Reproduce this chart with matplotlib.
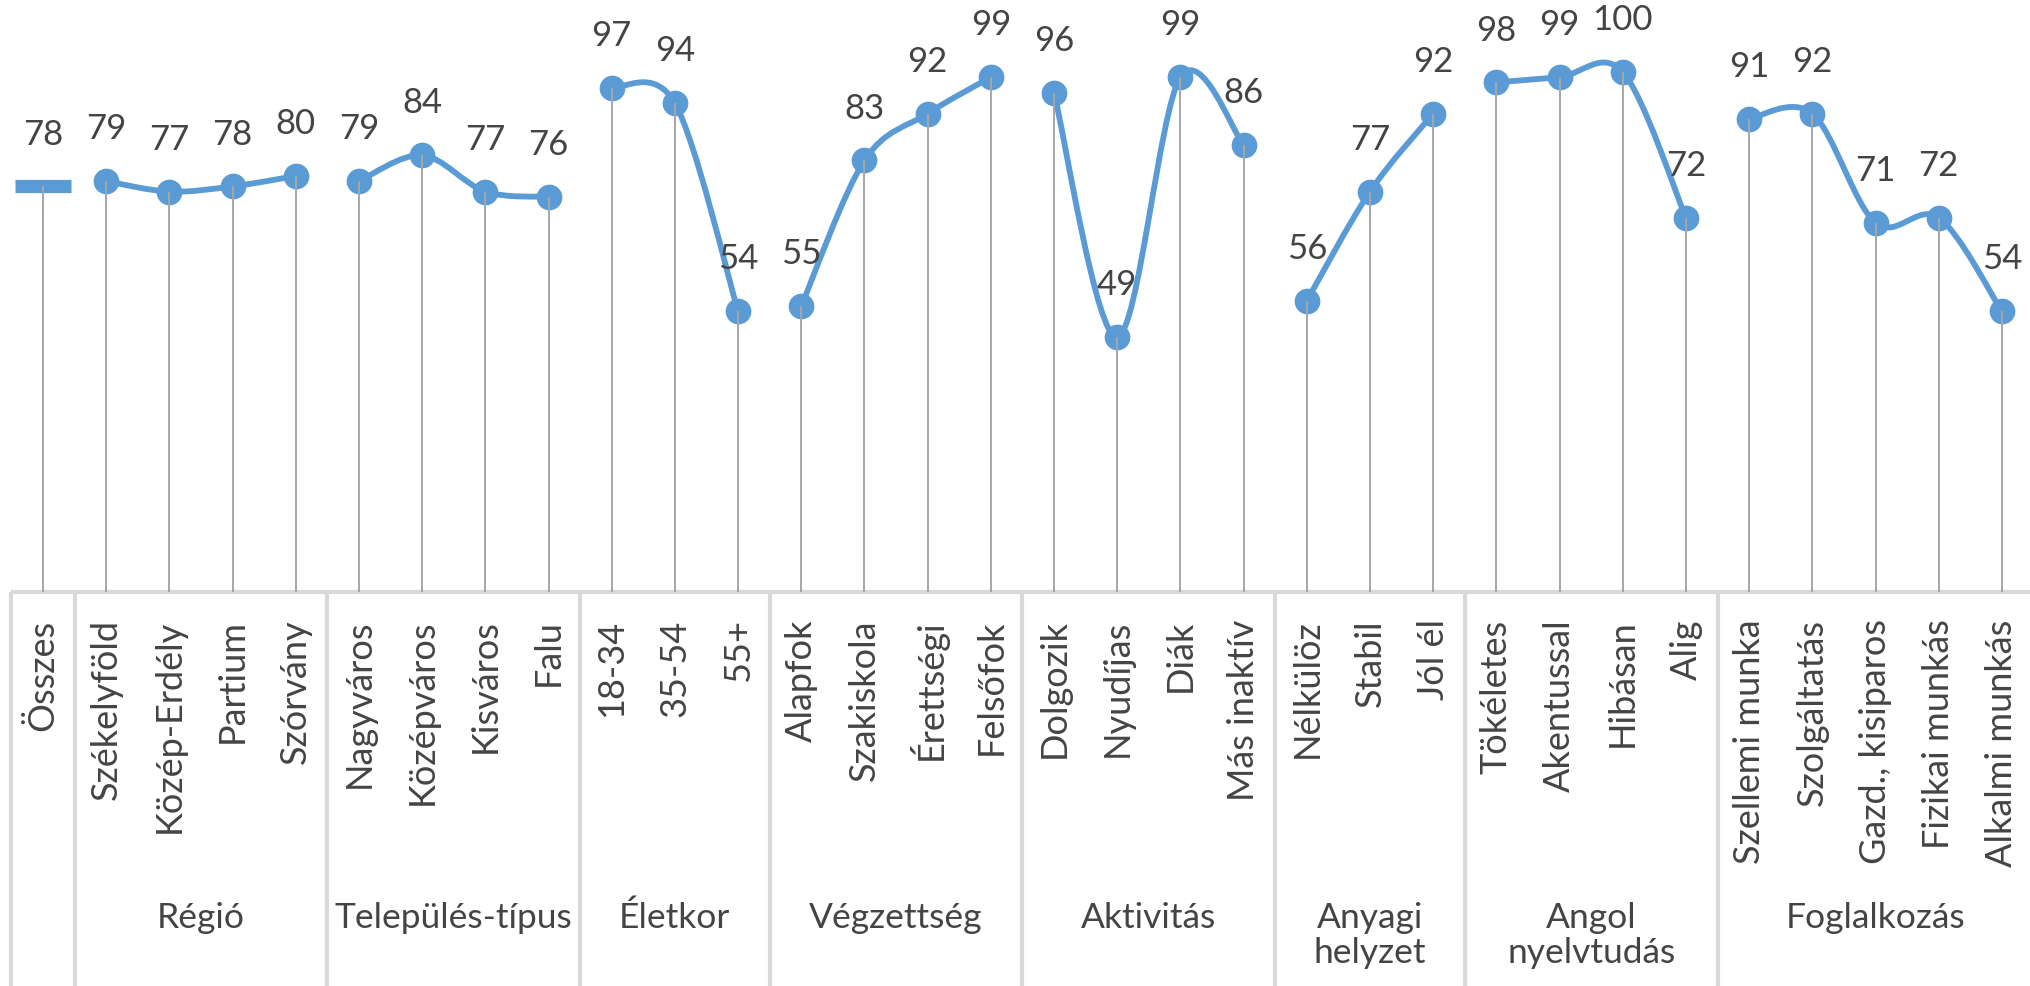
import numpy as np
import matplotlib
matplotlib.use("Agg")
import matplotlib.pyplot as plt
from matplotlib.path import Path
from matplotlib.patches import PathPatch
from matplotlib.transforms import blended_transform_factory

plt.rcParams['font.family'] = ['Lato', 'DejaVu Sans']

categories = ["Összes", "Székelyföld", "Közép-Erdély", "Partium", "Szórvány",
              "Nagyváros", "Középváros", "Kisváros", "Falu",
              "18-34", "35-54", "55+",
              "Alapfok", "Szakiskola", "Érettségi", "Felsőfok",
              "Dolgozik", "Nyudíjas", "Diák", "Más inaktív",
              "Nélkülöz", "Stabil", "Jól él",
              "Tökéletes", "Akentussal", "Hibásan", "Alig",
              "Szellemi munka", "Szolgáltatás", "Gazd., kisiparos",
              "Fizikai munkás", "Alkalmi munkás"]
values = [78, 79, 77, 78, 80, 79, 84, 77, 76, 97, 94, 54, 55, 83, 92, 99,
          96, 49, 99, 86, 56, 77, 92, 98, 99, 100, 72, 91, 92, 71, 72, 54]
groups = ["", "Régió", "Település-típus", "Életkor", "Végzettség", "Aktivitás",
          "Anyagi\nhelyzet", "Angol\nnyelvtudás", "Foglalkozás"]
group_sizes = [1, 4, 4, 3, 4, 4, 3, 4, 5]

BLUE = "#5B9BD5"
TXT = "#444444"
DROP = "#A6A6A6"
AXC = "#D9D9D9"

W, H = 2031, 987
fig = plt.figure(figsize=(W / 100, H / 100), dpi=100)
n = len(categories)
spacing = 63.19
left_px = 11.4
axis_px = 593
top_px = 21
ax = fig.add_axes([left_px / W, 1 - axis_px / H, n * spacing / W, (axis_px - top_px) / H])
ax.set_xlim(-0.5, n - 0.5)
ax.set_ylim(0, 110)
ax.axis("off")

x = np.arange(n)
y = np.array(values, dtype=float)

# smoothed lines per group (Catmull-Rom as Bezier)
start = 0
for gsize in group_sizes:
    idx = list(range(start, start + gsize))
    if gsize > 1:
        P = np.column_stack([x[idx], y[idx]]).astype(float)
        verts = [P[0]]
        codes = [Path.MOVETO]
        for k in range(len(P) - 1):
            p0 = P[k - 1] if k > 0 else P[k]
            p1 = P[k]
            p2 = P[k + 1]
            p3 = P[k + 2] if k + 2 < len(P) else P[k + 1]
            c1 = p1 + (p2 - p0) / 6.0
            c2 = p2 - (p3 - p1) / 6.0
            verts += [c1, c2, p2]
            codes += [Path.CURVE4] * 3
        ax.add_patch(PathPatch(Path(verts, codes), fill=False, edgecolor=BLUE,
                               lw=4.2, capstyle='round', joinstyle='round',
                               zorder=3, clip_on=False))
        ax.plot(x[idx], y[idx], linestyle='none', marker='o', ms=17.5,
                color=BLUE, zorder=4, clip_on=False)
    else:
        ax.plot(x[idx], y[idx], linestyle='none', marker='_', ms=40, mew=9.5,
                color=BLUE, zorder=4, clip_on=False)
    start += gsize

# drop lines
ax.vlines(x, 0, y, color=DROP, lw=1.4, zorder=5)

# data labels
for xi, yi in zip(x, y):
    ax.annotate(f"{int(yi)}", xy=(xi, yi), xytext=(0, 38), textcoords='offset points',
                ha='center', va='center', fontsize=25, color=TXT, zorder=6,
                annotation_clip=False)

# axis line
ax.plot([-0.5, n - 0.5], [0, 0], color=AXC, lw=3, zorder=2, clip_on=False,
        solid_capstyle='butt')

# category labels
for xi, c in zip(x, categories):
    ax.annotate(c, xy=(xi, 0), xytext=(0, -19), textcoords='offset points',
                rotation=90, ha='center', va='top', fontsize=26, color=TXT,
                annotation_clip=False)

# group separators and labels
trans = blended_transform_factory(ax.transData, fig.transFigure)
bounds = np.concatenate([[0], np.cumsum(group_sizes)]) - 0.5
for b in bounds:
    ax.plot([b, b], [1 - axis_px / H, 0], transform=trans, color=AXC, lw=3,
            clip_on=False, zorder=2, solid_capstyle='butt')
for g, s, e in zip(groups, bounds[:-1], bounds[1:]):
    if g:
        ax.text((s + e) / 2, 1 - 902 / H, g, transform=trans, ha='center',
                va='top', fontsize=25.5, color=TXT, linespacing=1.1)

fig.savefig("out.png", dpi=100, facecolor="white")
